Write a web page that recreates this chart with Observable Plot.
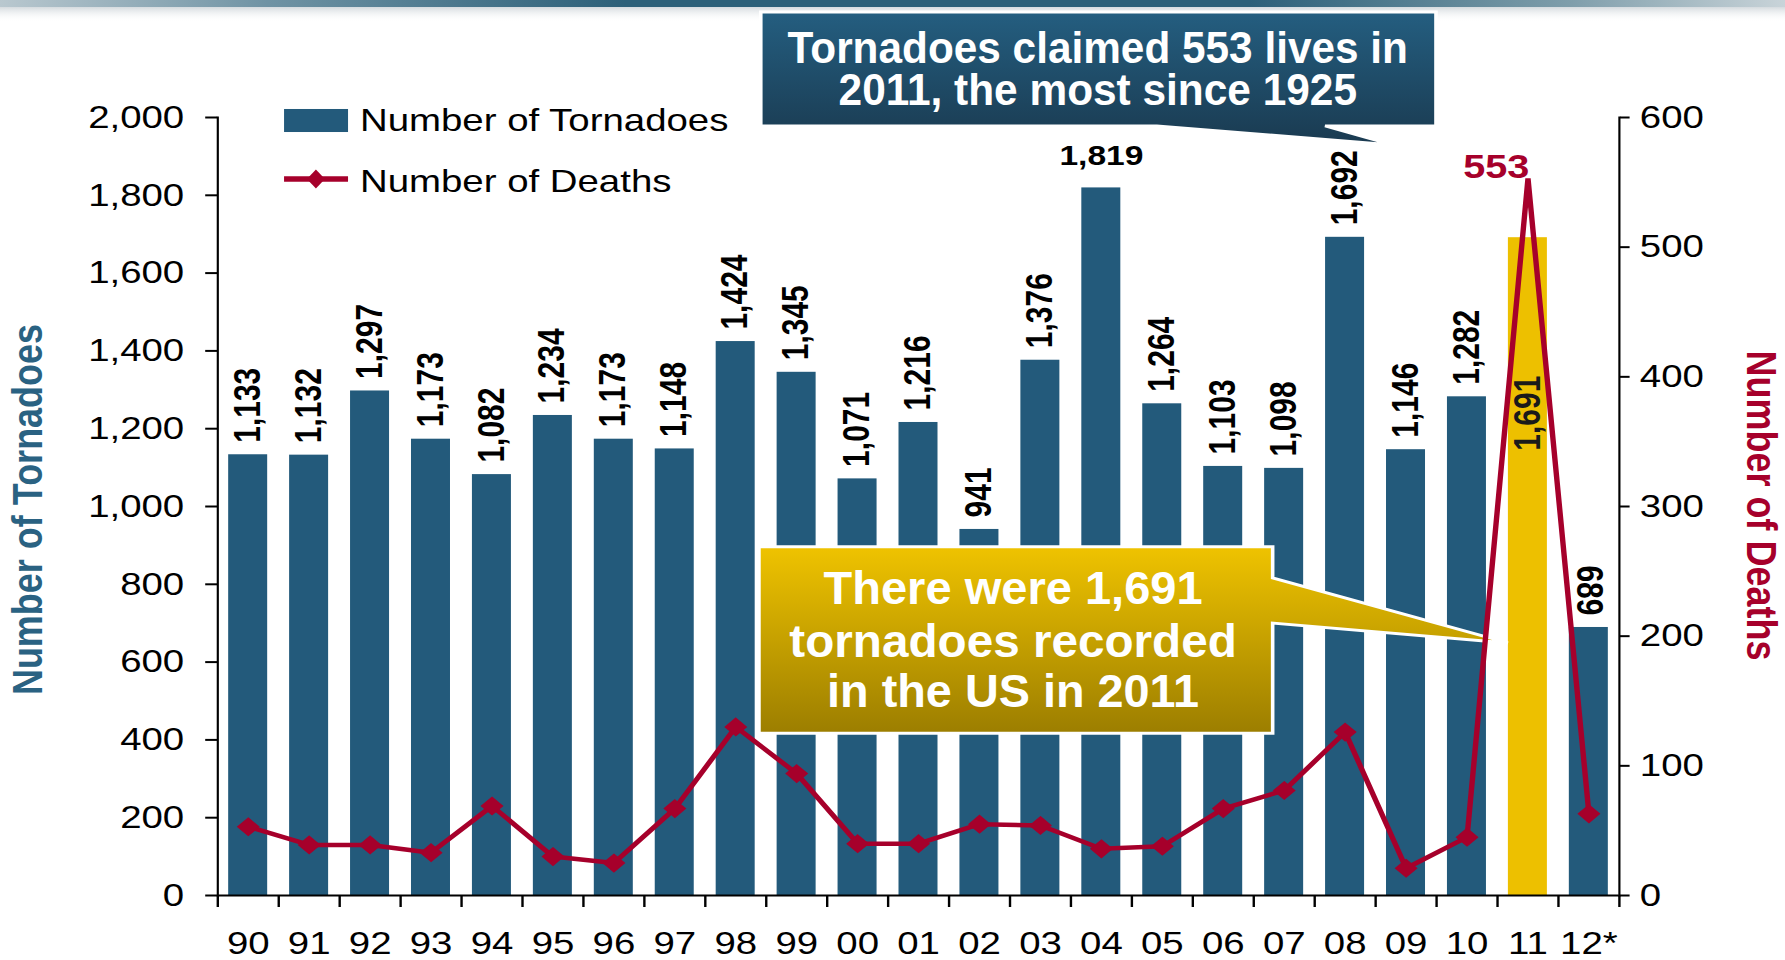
<!DOCTYPE html>
<html>
<head>
<meta charset="utf-8">
<script src="https://cdn.jsdelivr.net/npm/d3@7"></script>
<script src="https://cdn.jsdelivr.net/npm/@observablehq/plot@0.6"></script>
<style>
html, body { margin: 0; padding: 0; background: #fff; overflow: hidden; width: 1785px; height: 960px; }
#chart svg { transform: scaleX(1.2); transform-origin: 0 0; display: block; }
</style>
</head>
<body>
<div id="chart"></div>
<script>
// ---- data ----
const years = ["90","91","92","93","94","95","96","97","98","99","00","01","02","03","04","05","06","07","08","09","10","11","12*"];
const tornadoes = [1133,1132,1297,1173,1082,1234,1173,1148,1424,1345,1071,1216,941,1376,1819,1264,1103,1098,1692,1146,1282,1691,689];
const deaths = [53,39,39,33,69,30,25,67,130,94,40,40,55,54,36,38,67,81,126,21,45,553,63];
const leftTicks = [0,200,400,600,800,1000,1200,1400,1600,1800,2000];
const rightTicks = [0,100,200,300,400,500,600];
const seriesNames = ["Number of Tornadoes","Number of Deaths"];
const axisTitles = ["Number of Tornadoes","Number of Deaths"];
const callout1 = ["Tornadoes claimed 553 lives in","2011, the most since 1925"];
const callout2 = ["There were 1,691","tornadoes recorded","in the US in 2011"];

// ---- setup ----
const W = 1488, H = 960;
const mL = 181, mR = 139, mT = 117, mB = 65;
const step = (W - mL - mR) / years.length;
const k = 2000 / 600; // deaths -> tornado axis
const fmt = d3.format(",");
const BLUE = "#235A7B", GOLD = "#EDC000", RED = "#A6002B", TITLEBLUE = "#2A6282";
const FONT = "'Liberation Sans', Arial, Helvetica, sans-serif";

const data = years.map((year, i) => ({year, tornadoes: tornadoes[i], deaths: deaths[i], deathsY: deaths[i] * k}));
const special = new Set(["04", "11", "12*"]);
const byYear = y => data.filter(d => d.year === y);

const chart = Plot.plot({
  width: W, height: H,
  marginLeft: mL, marginRight: mR, marginTop: mT, marginBottom: mB,
  style: {fontFamily: FONT, fontSize: "32px", color: "#000", background: "transparent", overflow: "visible"},
  x: {type: "band", domain: years, paddingInner: 0.36, paddingOuter: 0.18, round: false, label: null},
  y: {domain: [0, 2000], label: null},
  marks: [
    Plot.barY(data.filter(d => d.year !== "11"), {x: "year", y: "tornadoes", fill: BLUE}),
    Plot.barY(byYear("11"), {x: "year", y: "tornadoes", fill: GOLD}),
    // axes
    Plot.axisY(leftTicks, {anchor: "left", tickSize: 10, tickPadding: 18, tickFormat: fmt, fontSize: 32, strokeWidth: 2, label: null}),
    Plot.axisY(rightTicks.map(d => d * k), {anchor: "right", tickSize: 8, tickPadding: 9, tickFormat: d => fmt(Math.round(d / k)), fontSize: 32, strokeWidth: 2, label: null}),
    Plot.axisX({tickSize: 0, tickPadding: 36, fontSize: 32, label: null}),
    Plot.axisX(years, {tickSize: 12, tickFormat: () => "", dx: -step / 2, strokeWidth: 2, label: null}),
    Plot.axisX([years[years.length - 1]], {tickSize: 12, tickFormat: () => "", dx: step / 2, strokeWidth: 2, label: null}),
    Plot.frame({anchor: "left", strokeWidth: 1.8}),
    Plot.frame({anchor: "right", strokeWidth: 1.8}),
    Plot.ruleY([0], {strokeWidth: 2}),
    // value labels
    Plot.text(data.filter(d => !special.has(d.year)), {x: "year", y: "tornadoes", text: d => fmt(d.tornadoes), rotate: -90, textAnchor: "start", lineAnchor: "middle", dy: -12, fontSize: 30, fontWeight: "bold", fill: "#000"}),
    Plot.text(byYear("04"), {x: "year", y: "tornadoes", text: d => fmt(d.tornadoes), lineAnchor: "bottom", dy: -23, fontSize: 28, fontWeight: "bold", fill: "#000"}),
    Plot.text(byYear("12*"), {x: "year", y: "tornadoes", text: d => fmt(d.tornadoes), rotate: 90, textAnchor: "end", lineAnchor: "middle", dy: -12, fontSize: 30, fontWeight: "bold", fill: "#000"}),
    Plot.text(byYear("11"), {x: "year", y: "tornadoes", text: d => fmt(d.tornadoes), rotate: -90, textAnchor: "start", lineAnchor: "middle", dy: 213, fontSize: 30, fontWeight: "bold", fill: "#1a1a1a"}),
    // axis titles
    Plot.text([axisTitles[0]], {frameAnchor: "left", text: d => d, rotate: -90, textAnchor: "middle", lineAnchor: "middle", dx: -158, dy: 3, fontSize: 36, fontWeight: "bold", fill: TITLEBLUE}),
    Plot.text([axisTitles[1]], {frameAnchor: "right", text: d => d, rotate: 90, textAnchor: "middle", lineAnchor: "middle", dx: 118, dy: -1, fontSize: 36, fontWeight: "bold", fill: RED}),
    // deaths line
    Plot.line(data, {x: "year", y: "deathsY", stroke: RED, strokeWidth: 4.5, strokeLinejoin: "miter"}),
    Plot.dot(data.filter(d => d.year !== "11"), {x: "year", y: "deathsY", symbol: "diamond2", r: 8, fill: RED, stroke: RED, strokeWidth: 1}),
    Plot.text(byYear("11"), {x: "year", y: "deathsY", text: d => String(d.deaths), textAnchor: "end", lineAnchor: "bottom", dx: 1, dy: 0, fontSize: 33, fontWeight: "bold", fill: RED})
  ]
});

document.getElementById("chart").appendChild(chart);

// ---- annotations (positioned through the chart's scales) ----
const svg = d3.select(chart);
const ys = chart.scale("y");
const X = t => mL + t * step;          // t in band units
const Y = v => ys.apply(v);            // v in tornado units

const defs = svg.insert("defs", ":first-child");
const g1 = defs.append("linearGradient").attr("id", "gBlue").attr("x1", 0).attr("y1", 0).attr("x2", 0).attr("y2", 1);
g1.append("stop").attr("offset", 0).attr("stop-color", "#245E80");
g1.append("stop").attr("offset", 1).attr("stop-color", "#1A3A50");
const g2 = defs.append("linearGradient").attr("id", "gGold").attr("x1", 0).attr("y1", 0).attr("x2", 0).attr("y2", 1);
g2.append("stop").attr("offset", 0).attr("stop-color", "#EFC300");
g2.append("stop").attr("offset", 1).attr("stop-color", "#9C7E00");
const g3 = defs.append("linearGradient").attr("id", "gTop").attr("x1", 0).attr("y1", 0).attr("x2", 1).attr("y2", 0);
[[0, "#b9c8cf"], [0.15, "#6f93a4"], [0.35, "#2c6079"], [0.7, "#2c6079"], [0.88, "#7f9eab"], [1, "#c9d4d9"]]
  .forEach(([o, c]) => g3.append("stop").attr("offset", o).attr("stop-color", c));
const g4 = defs.append("linearGradient").attr("id", "gShadow").attr("x1", 0).attr("y1", 0).attr("x2", 0).attr("y2", 1);
g4.append("stop").attr("offset", 0).attr("stop-color", "#cfd6da");
g4.append("stop").attr("offset", 1).attr("stop-color", "#ffffff").attr("stop-opacity", 0);

// decorative band at the top of the slide
const deco = svg.insert("g", "defs + *");
deco.append("rect").attr("x", 0).attr("y", 6).attr("width", W).attr("height", 16).attr("fill", "url(#gShadow)");
deco.append("rect").attr("x", 0).attr("y", 0).attr("width", W).attr("height", 7).attr("fill", "url(#gTop)");

const lineNode = chart.querySelector('[aria-label="line"]');
const ann = lineNode ? svg.insert("g", () => lineNode) : svg.append("g");
ann.attr("font-family", FONT).attr("font-weight", "bold");

// callout 1: deaths
{
  const bx0 = X(8.92), bx1 = X(20.0), by0 = Y(2270), by1 = Y(1977);
  const tl = X(15.42), tr = X(18.18), tip = [X(19.30), Y(1928)];
  ann.append("path")
    .attr("d", `M${bx0},${by0}H${bx1}V${by1}H${tr}L${tip[0]},${tip[1]}L${tl},${by1}H${bx0}Z`)
    .attr("fill", "url(#gBlue)").attr("stroke", "#fff").attr("stroke-width", 3);
  const cx = X(14.45);
  const base = [Y(2139), Y(2031)], lens = [517, 432];
  callout1.forEach((s, i) => ann.append("text").attr("x", cx).attr("y", base[i]).attr("text-anchor", "middle")
    .attr("font-size", 45).attr("fill", "#fff").attr("textLength", lens[i]).attr("lengthAdjust", "spacingAndGlyphs").text(s));
}
// callout 2: tornadoes
{
  const bx0 = X(8.89), bx1 = X(17.32), by0 = Y(895), by1 = Y(416);
  const t0 = Y(815), t1 = Y(699), tip = [X(21.18), Y(648)];
  ann.append("path")
    .attr("d", `M${bx0},${by0}H${bx1}V${t0}L${tip[0]},${tip[1]}L${bx1},${t1}V${by1}H${bx0}Z`)
    .attr("fill", "url(#gGold)").attr("stroke", "#fff").attr("stroke-width", 3);
  const cx = X(13.06);
  const base = [Y(748), Y(612), Y(483)], lens = [316, 373, 310];
  callout2.forEach((s, i) => ann.append("text").attr("x", cx).attr("y", base[i]).attr("text-anchor", "middle")
    .attr("font-size", 47).attr("fill", "#fff").attr("textLength", lens[i]).attr("lengthAdjust", "spacingAndGlyphs").text(s));
}

// legend
{
  const lg = svg.append("g").attr("font-family", FONT).attr("font-size", 32).attr("fill", "#000").attr("text-anchor", "start");
  const sx0 = X(1.097), sx1 = X(2.147), tx = X(2.343);
  lg.append("rect").attr("x", sx0).attr("y", Y(2020.6)).attr("width", sx1 - sx0).attr("height", Y(1961.4) - Y(2020.6)).attr("fill", BLUE);
  lg.append("text").attr("x", tx).attr("y", Y(1964)).attr("text-anchor", "start").text(seriesNames[0]);
  const ly = Y(1840.6), dcx = X(1.62);
  lg.append("line").attr("x1", sx0).attr("x2", sx1).attr("y1", ly).attr("y2", ly).attr("stroke", RED).attr("stroke-width", 5.5);
  lg.append("path").attr("d", `M${dcx},${ly - 9.5}L${dcx + 7.5},${ly}L${dcx},${ly + 9.5}L${dcx - 7.5},${ly}Z`).attr("fill", RED);
  lg.append("text").attr("x", tx).attr("y", Y(1807)).attr("text-anchor", "start").text(seriesNames[1]);
}
</script>
</body>
</html>
